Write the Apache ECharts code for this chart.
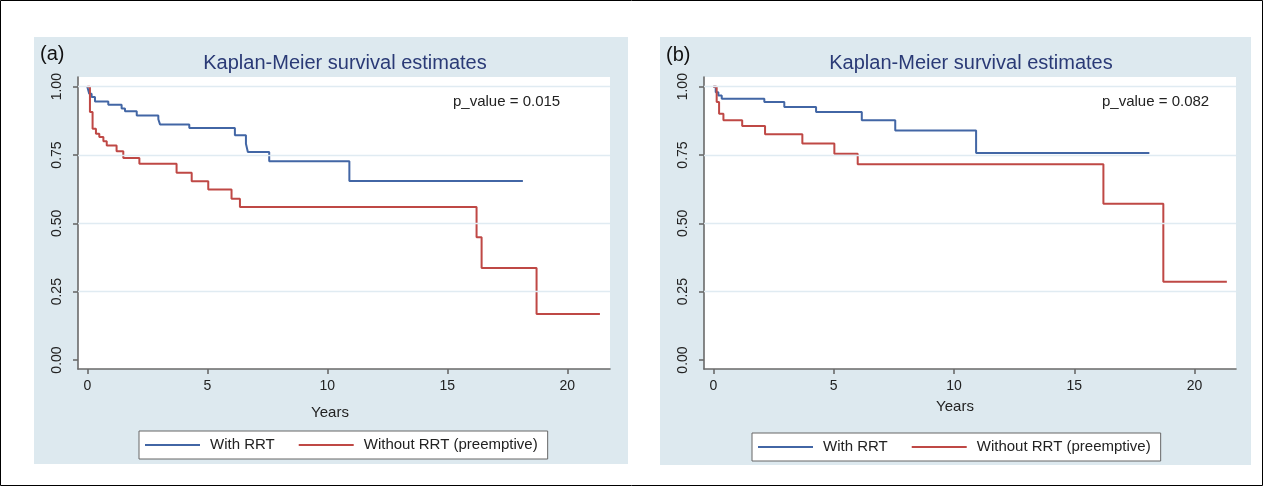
<!DOCTYPE html>
<html>
<head>
<meta charset="utf-8">
<script src="https://cdn.jsdelivr.net/npm/echarts@6/dist/echarts.min.js"></script>
<style>
html,body{margin:0;padding:0;background:#fff;}
#chart{width:1263px;height:486px;}
</style>
</head>
<body>
<div id="chart"></div>
<script>
// ---- data ----
const seriesNames = ['With RRT', 'Without RRT (preemptive)'];
const panelLabels = ['(a)', '(b)'];
const chartTitle = 'Kaplan-Meier survival estimates';
const pValueTexts = ['p_value = 0.015', 'p_value = 0.082'];
const xAxisTitle = 'Years';
const xTicks = [0, 5, 10, 15, 20];
const yTicks = [0, 0.25, 0.5, 0.75, 1];
const yGridValues = [0.25, 0.5, 0.75, 1];

// panel (a)
const aWithTimes = [0, 0.08, 0.18, 0.32, 0.875, 1.43, 1.57, 2.06, 2.96, 3.03, 4.25, 6.15, 6.61, 6.69, 7.58, 10.92, 18.15];
const aWithSurv  = [1.0, 0.974, 0.962, 0.946, 0.934, 0.920, 0.910, 0.895, 0.881, 0.862, 0.849, 0.822, 0.791, 0.761, 0.727, 0.655, 0.655];
const aWithoutTimes = [0, 0.11, 0.22, 0.36, 0.5, 0.67, 0.81, 1.22, 1.5, 2.17, 3.72, 4.35, 5.04, 6.01, 6.36, 16.22, 16.43, 18.72, 21.36];
const aWithoutSurv  = [1.0, 0.907, 0.846, 0.828, 0.816, 0.800, 0.785, 0.764, 0.739, 0.718, 0.685, 0.654, 0.624, 0.590, 0.560, 0.449, 0.337, 0.168, 0.168];

// panel (b)
const bWithTimes = [0, 0.1, 0.21, 0.35, 2.12, 2.95, 4.27, 6.17, 7.56, 10.92, 18.12];
const bWithSurv  = [1.0, 0.98, 0.968, 0.956, 0.944, 0.926, 0.907, 0.877, 0.840, 0.757, 0.757];
const bWithoutTimes = [0, 0.14, 0.24, 0.42, 1.2, 2.15, 3.7, 5.03, 6.0, 16.21, 18.7, 21.34];
const bWithoutSurv  = [1.0, 0.944, 0.901, 0.877, 0.856, 0.826, 0.792, 0.755, 0.716, 0.572, 0.286, 0.286];

// ---- styles ----
const FONT = "'Liberation Sans', Arial, Helvetica, sans-serif";
const BLUE = '#4266a5';
const RED = '#bf4845';
const PANEL_BG = '#dde9ef';
const AXIS_COLOR = '#6a6a6a';
const GRID_COLOR = '#e0ebf2';

function pairs(t, s) { return t.map((v, i) => [v, s[i]]); }

const panels = [
  { grid: { left: 78, top: 77, width: 532, height: 292 }, xMin: -0.3875, xMax: 21.78,
    bg: [34, 37, 594, 427], titleX: 345, titleY: 63, labelX: 40, labelY: 54, pX: 453, pY: 102,
    yearsX: 330, yearsY: 413, legend: { left: 139, top: 431 },
    withData: pairs(aWithTimes, aWithSurv), withoutData: pairs(aWithoutTimes, aWithoutSurv) },
  { grid: { left: 704, top: 77, width: 532, height: 292 }, xMin: -0.387, xMax: 21.72,
    bg: [660, 37, 591, 428], titleX: 971, titleY: 63, labelX: 666, labelY: 55, pX: 1102, pY: 102,
    yearsX: 955, yearsY: 407, legend: { left: 752, top: 433 },
    withData: pairs(bWithTimes, bWithSurv), withoutData: pairs(bWithoutTimes, bWithoutSurv) }
];

const grids = [], xAxes = [], yAxes = [], series = [], legends = [], graphics = [];

panels.forEach((p, i) => {
  grids.push(Object.assign({ show: true, backgroundColor: '#ffffff', borderWidth: 0, containLabel: false }, p.grid));
  xAxes.push({
    type: 'value', gridIndex: i, min: p.xMin, max: p.xMax,
    axisLine: { show: true, onZero: false, lineStyle: { color: AXIS_COLOR, width: 1.6 } },
    axisTick: { show: true, length: 5, customValues: xTicks, lineStyle: { color: AXIS_COLOR, width: 1.6 } },
    axisLabel: { customValues: xTicks, fontSize: 14, color: '#222', fontFamily: FONT, margin: 10 },
    splitLine: { show: false }
  });
  yAxes.push({
    type: 'value', gridIndex: i, min: -0.0329, max: 1.0355,
    axisLine: { show: true, onZero: false, lineStyle: { color: AXIS_COLOR, width: 1.6 } },
    axisTick: { show: true, length: 5, customValues: yTicks, lineStyle: { color: AXIS_COLOR, width: 1.6 } },
    axisLabel: { customValues: yTicks, rotate: 90, fontSize: 14, color: '#222', fontFamily: FONT, margin: 14,
                 formatter: v => v.toFixed(2) },
    splitLine: { show: false }
  });
  // grid lines
  series.push({
    name: 'grid' + i, type: 'line', xAxisIndex: i, yAxisIndex: i, data: [], silent: true, z: 1,
    markLine: { silent: true, symbol: 'none', label: { show: false }, animation: false,
      lineStyle: { color: GRID_COLOR, width: 1.3, type: 'solid' },
      data: yGridValues.map(v => ({ yAxis: v })) }
  });
  series.push({
    name: seriesNames[0], type: 'line', xAxisIndex: i, yAxisIndex: i, step: 'end', data: p.withData,
    symbol: 'none', showSymbol: false, z: 3, color: BLUE, lineStyle: { color: BLUE, width: 2 }
  });
  series.push({
    name: seriesNames[1], type: 'line', xAxisIndex: i, yAxisIndex: i, step: 'end', data: p.withoutData,
    symbol: 'none', showSymbol: false, z: 3, color: RED, lineStyle: { color: RED, width: 2 }
  });
  legends.push({
    data: seriesNames, left: p.legend.left, top: p.legend.top, orient: 'horizontal',
    icon: 'rect', itemWidth: 55, itemHeight: 2, itemGap: 24,
    padding: [5, 10, 5, 6], backgroundColor: '#ffffff', borderColor: '#666', borderWidth: 1, borderRadius: 0,
    selectedMode: false,
    textStyle: { fontSize: 15, color: '#222', fontFamily: FONT, lineHeight: 18, padding: [0, 0, 0, 5] }
  });
  graphics.push({ type: 'rect', z: -10, silent: true,
    shape: { x: p.bg[0], y: p.bg[1], width: p.bg[2], height: p.bg[3] }, style: { fill: PANEL_BG } });
  graphics.push({ type: 'text', z: 10, silent: true, x: p.titleX, y: p.titleY,
    style: { text: chartTitle, font: '20px ' + FONT, fill: '#2a3a76', textAlign: 'center', textVerticalAlign: 'middle', verticalAlign: 'middle' } });
  graphics.push({ type: 'text', z: 10, silent: true, x: p.labelX, y: p.labelY,
    style: { text: panelLabels[i], font: '20px ' + FONT, fill: '#111', textAlign: 'left', textVerticalAlign: 'middle', verticalAlign: 'middle' } });
  graphics.push({ type: 'text', z: 10, silent: true, x: p.pX, y: p.pY,
    style: { text: pValueTexts[i], font: '15px ' + FONT, fill: '#222', textAlign: 'left', textVerticalAlign: 'middle', verticalAlign: 'middle' } });
  graphics.push({ type: 'text', z: 10, silent: true, x: p.yearsX, y: p.yearsY,
    style: { text: xAxisTitle, font: '15px ' + FONT, fill: '#222', textAlign: 'center', textVerticalAlign: 'middle', verticalAlign: 'middle' } });
});

graphics.push({ type: 'rect', z: 20, silent: true, shape: { x: 0.5, y: 0.5, width: 1262, height: 485 },
  style: { fill: 'none', stroke: '#000', lineWidth: 1 } });

const chart = echarts.init(document.getElementById('chart'), null, { renderer: 'canvas', width: 1263, height: 486 });
chart.setOption({
  animation: false,
  backgroundColor: '#ffffff',
  textStyle: { fontFamily: FONT },
  grid: grids, xAxis: xAxes, yAxis: yAxes, series: series, legend: legends,
  graphic: { elements: graphics }
});
</script>
</body>
</html>
